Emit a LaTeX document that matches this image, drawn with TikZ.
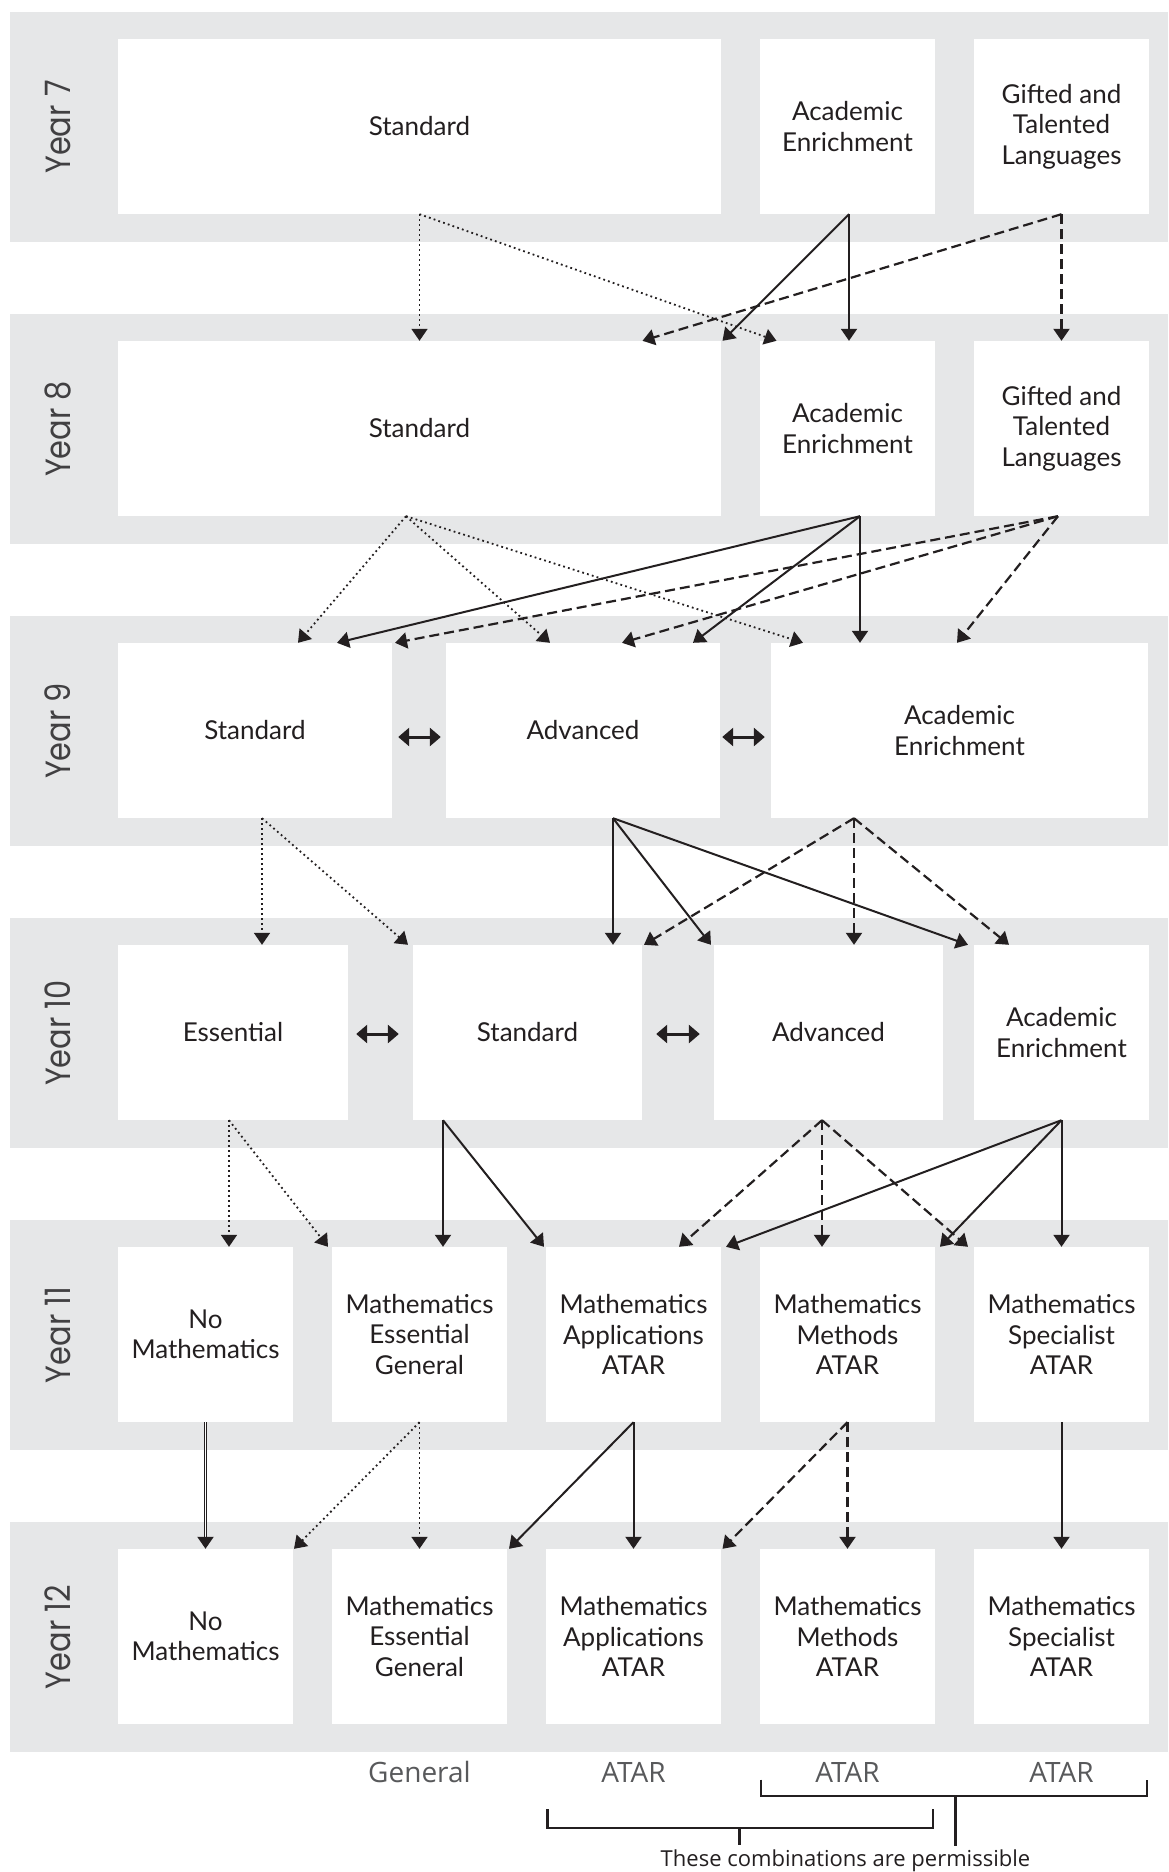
\documentclass[tikz,border=0pt]{standalone}
\usepackage{fontspec}
\setmainfont{Lato}
\newfontfamily\yearfont{Poppins}
\newfontfamily\lblfont{Open Sans}
\usetikzlibrary{arrows.meta,calc}
\definecolor{band}{HTML}{E6E7E8}
\definecolor{ink}{HTML}{231F20}
\definecolor{yearink}{HTML}{414042}
\definecolor{lblink}{HTML}{58595B}
\newcommand{\yrtxt}[1]{\scalebox{0.87}[1]{#1}}
\begin{document}
\begin{tikzpicture}[x=1pt,y=-1pt,
  bandfill/.style={fill=band,draw=none},
  box/.style={fill=white,draw=none,inner sep=0pt,align=center,text=ink,minimum height=175pt,font=\fontsize{26}{30.5}\selectfont},
  yearlbl/.style={rotate=90,text=yearink,inner sep=0pt,font=\yearfont\fontsize{35}{40}\selectfont},
  tipstyle/.style={-{Triangle[width=16pt,length=12pt]}},
  solidarr/.style={tipstyle,line width=2pt,draw=ink},
  dotarr/.style={tipstyle,line width=1.8pt,draw=ink,dash pattern=on 1.8pt off 3.2pt},
  dasharr/.style={tipstyle,line width=2.2pt,draw=ink,dash pattern=on 10pt off 5pt},
  dblarr/.style={{Triangle[width=18pt,length=11pt]}-{Triangle[width=18pt,length=11pt]},line width=3pt,draw=ink},
  dblline/.style={draw=ink,line width=1.1pt,double=white,double distance=1.2pt},
  lbl/.style={anchor=base,inner sep=0pt,text=lblink,font=\lblfont\fontsize{28}{30}\selectfont},
  brk/.style={line width=2.5pt,draw=ink},
  note/.style={anchor=base,inner sep=0pt,text=ink,font=\lblfont\fontsize{22}{26}\selectfont}
]
\useasboundingbox (0,0) rectangle (1168,1872);
\fill[white] (0,0) rectangle (1168,1872);
% bands
\foreach \t in {12,314,616,918,1220,1522} {
  \fill[bandfill] (10,\t) rectangle (1168,\t+230);
}
% year labels
\node[yearlbl] (y7) at (58,127) {\yrtxt{Year 7}};
\node[yearlbl] (y8) at (58,429) {\yrtxt{Year 8}};
\node[yearlbl] (y9) at (58,731) {\yrtxt{Year 9}};
\node[yearlbl] (y10) at (58,1033) {\yrtxt{Year 10}};
\node[yearlbl] (y11) at (58,1335) {\yrtxt{Year 11}};
\node[yearlbl] (y12) at (58,1637) {\yrtxt{Year 12}};
% Year 7
\node[box,minimum width=603pt] (s7) at (419.5,126.5) {Standard};
\node[box,minimum width=175pt] (ae7) at (847.5,126.5) {Academic\\Enrichment};
\node[box,minimum width=175pt] (gt7) at (1061.5,126.5) {Gifted and\\Talented\\Languages};
% Year 8
\node[box,minimum width=603pt] (s8) at (419.5,428.5) {Standard};
\node[box,minimum width=175pt] (ae8) at (847.5,428.5) {Academic\\Enrichment};
\node[box,minimum width=175pt] (gt8) at (1061.5,428.5) {Gifted and\\Talented\\Languages};
% Year 9
\node[box,minimum width=274pt] (s9) at (255,730.5) {Standard};
\node[box,minimum width=274pt] (adv9) at (583,730.5) {Advanced};
\node[box,minimum width=377pt] (ae9) at (959.5,730.5) {Academic\\Enrichment};
% Year 10
\node[box,minimum width=230pt] (ess10) at (233,1032.5) {Essential};
\node[box,minimum width=229pt] (s10) at (527.5,1032.5) {Standard};
\node[box,minimum width=229pt] (adv10) at (828.5,1032.5) {Advanced};
\node[box,minimum width=175pt] (ae10) at (1061.5,1032.5) {Academic\\Enrichment};
% Year 11
\node[box,minimum width=175pt] (nm11) at (205.5,1334.5) {No\\Mathematics};
\node[box,minimum width=175pt] (meg11) at (419.5,1334.5) {Mathematics\\Essential\\General};
\node[box,minimum width=175pt] (maa11) at (633.5,1334.5) {Mathematics\\Applications\\ATAR};
\node[box,minimum width=175pt] (mma11) at (847.5,1334.5) {Mathematics\\Methods\\ATAR};
\node[box,minimum width=175pt] (msa11) at (1061.5,1334.5) {Mathematics\\Specialist\\ATAR};
% Year 12
\node[box,minimum width=175pt] (nm12) at (205.5,1636.5) {No\\Mathematics};
\node[box,minimum width=175pt] (meg12) at (419.5,1636.5) {Mathematics\\Essential\\General};
\node[box,minimum width=175pt] (maa12) at (633.5,1636.5) {Mathematics\\Applications\\ATAR};
\node[box,minimum width=175pt] (mma12) at (847.5,1636.5) {Mathematics\\Methods\\ATAR};
\node[box,minimum width=175pt] (msa12) at (1061.5,1636.5) {Mathematics\\Specialist\\ATAR};

% Y7 -> Y8
\draw[dotarr] (s7.south) -- (s8.north);
\draw[dotarr] (s7.south) -- ([xshift=-71pt]ae8.north);
\coordinate (ae7o) at ([xshift=1.5pt]ae7.south);
\draw[solidarr] (ae7o) -- ([xshift=1.5pt]ae8.north);
\draw[solidarr] (ae7o) -- ([xshift=303pt]s8.north);
\draw[dasharr] (gt7.south) -- (gt8.north);
\draw[dasharr] (gt7.south) -- ([xshift=223pt]s8.north);
% Y8 -> Y9
\coordinate (s8o) at ([xshift=-13.5pt]s8.south);
\draw[dotarr] (s8o) -- ([xshift=43pt]s9.north);
\draw[dotarr] (s8o) -- ([xshift=-33pt]adv9.north);
\draw[dotarr] (s8o) -- ([xshift=-156.5pt]ae9.north);
\coordinate (ae8o) at ([xshift=12.5pt]ae8.south);
\draw[solidarr] (ae8o) -- ([xshift=82pt]s9.north);
\draw[solidarr] (ae8o) -- ([xshift=110pt]adv9.north);
\draw[solidarr] (ae8o) -- ([xshift=-99.5pt]ae9.north);
\coordinate (gt8o) at ([xshift=-3.5pt]gt8.south);
\draw[dasharr] (gt8o) -- ([xshift=140pt]s9.north);
\draw[dasharr] (gt8o) -- ([xshift=39pt]adv9.north);
\draw[dasharr] (gt8o) -- ([xshift=-2.5pt]ae9.north);
% Y9 sideways
\draw[dblarr] ([xshift=6pt,yshift=-6.5pt]s9.east) -- ([xshift=-5pt,yshift=-6.5pt]adv9.west);
\draw[dblarr] ([xshift=2pt,yshift=-6.5pt]adv9.east) -- ([xshift=-6pt,yshift=-6.5pt]ae9.west);
% Y9 -> Y10
\coordinate (s9o) at ([xshift=7pt]s9.south);
\draw[dotarr] (s9o) -- ([xshift=29pt]ess10.north);
\draw[dotarr] (s9o) -- ([xshift=-119.5pt]s10.north);
\coordinate (adv9o) at ([xshift=30pt]adv9.south);
\draw[solidarr] (adv9o) -- ([xshift=85.5pt]s10.north);
\draw[solidarr] (adv9o) -- ([xshift=-117.5pt]adv10.north);
\draw[solidarr] (adv9o) -- ([xshift=-93.5pt]ae10.north);
\coordinate (ae9o) at ([xshift=-105.5pt]ae9.south);
\draw[dasharr] (ae9o) -- ([xshift=116.5pt]s10.north);
\draw[dasharr] (ae9o) -- ([xshift=25.5pt]adv10.north);
\draw[dasharr] (ae9o) -- ([xshift=-52.5pt]ae10.north);
% Y10 sideways
\draw[dblarr] ([xshift=8pt,yshift=-1.5pt]ess10.east) -- ([xshift=-14pt,yshift=-1.5pt]s10.west);
\draw[dblarr] ([xshift=14pt,yshift=-1.5pt]s10.east) -- ([xshift=-14pt,yshift=-1.5pt]adv10.west);
% Y10 -> Y11
\coordinate (ess10o) at ([xshift=-4pt]ess10.south);
\draw[dotarr] (ess10o) -- ([xshift=23.5pt]nm11.north);
\draw[dotarr] (ess10o) -- ([xshift=-91.5pt]meg11.north);
\coordinate (s10o) at ([xshift=-84.5pt]s10.south);
\draw[solidarr] (s10o) -- ([xshift=23.5pt]meg11.north);
\draw[solidarr] (s10o) -- ([xshift=-89.5pt]maa11.north);
\coordinate (adv10o) at ([xshift=-6.5pt]adv10.south);
\draw[dasharr] (adv10o) -- ([xshift=45.5pt]maa11.north);
\draw[dasharr] (adv10o) -- ([xshift=-25.5pt]mma11.north);
\draw[dasharr] (adv10o) -- ([xshift=-93.5pt]msa11.north);
\draw[solidarr] (ae10.south) -- ([xshift=92.5pt]maa11.north);
\draw[solidarr] (ae10.south) -- ([xshift=92.5pt]mma11.north);
\draw[solidarr] (ae10.south) -- (msa11.north);
% Y11 -> Y12
\draw[dblline] (nm11.south) -- ([yshift=11pt]nm12.north);
\draw[solidarr] ([yshift=12pt]nm12.north) -- (nm12.north);
\draw[dotarr] (meg11.south) -- ([xshift=88.5pt]nm12.north);
\draw[dotarr] (meg11.south) -- (meg12.north);
\draw[solidarr] (maa11.south) -- ([xshift=89.5pt]meg12.north);
\draw[solidarr] (maa11.south) -- (maa12.north);
\draw[dasharr] (mma11.south) -- ([xshift=89pt]maa12.north);
\draw[dasharr] (mma11.south) -- (mma12.north);
\draw[solidarr] (msa11.south) -- (msa12.north);

% bottom labels
\node[lbl] (lgen) at (419.5,1782) {General};
\node[lbl] (latar1) at (633.5,1782) {ATAR};
\node[lbl] (latar2) at (847.5,1782) {ATAR};
\node[lbl] (latar3) at (1061.5,1782) {ATAR};
% brackets
\draw[brk] (761,1779.5) -- (761,1796) -- (1147,1796) -- (1147,1779.5);
\draw[brk] (955.7,1796) -- (955.7,1846);
\draw[brk] (547.5,1809) -- (547.5,1828) -- (933,1828) -- (933,1809);
\draw[brk] (739.6,1828) -- (739.6,1845);
\node[note] (perm) at (845.5,1866) {These combinations are permissible};
\end{tikzpicture}
\end{document}
